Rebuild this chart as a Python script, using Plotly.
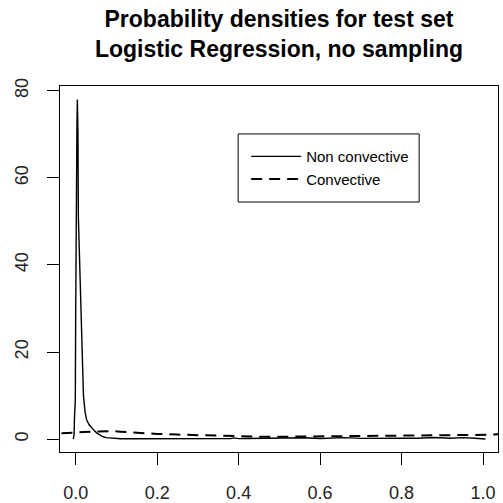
import plotly.graph_objects as go

# Non convective density (solid)
nonconv_x = [-0.006, -0.004, -0.003, -0.001, 0.000, 0.001, 0.003, 0.004, 0.0055, 0.0065,
             0.009, 0.011, 0.013, 0.015, 0.017, 0.019, 0.023, 0.027, 0.033, 0.040,
             0.046, 0.052, 0.060, 0.067, 0.075, 0.090, 0.110, 0.140, 0.200, 0.260,
             0.320, 0.380, 0.390, 0.400, 0.420, 0.460, 0.480, 0.500, 0.540, 0.560,
             0.600, 0.640, 0.660, 0.700, 0.740, 0.780, 0.800, 0.840, 0.880, 0.920,
             0.950, 0.980, 1.000, 1.006]
nonconv_y = [0.0, 1.0, 5.0, 9.0, 30.0, 56.0, 72.0, 78.0, 70.0, 51.0,
             42.0, 36.0, 27.0, 20.0, 14.0, 10.0, 6.2, 4.4, 3.3, 2.5,
             1.9, 1.4, 0.9, 0.55, 0.35, 0.18, 0.10, 0.08, 0.08, 0.09,
             0.10, 0.12, 0.30, 0.12, 0.14, 0.16, 0.30, 0.15, 0.18, 0.32,
             0.16, 0.20, 0.35, 0.18, 0.22, 0.35, 0.20, 0.22, 0.38, 0.22,
             0.35, 0.20, 0.15, 0.05]

# Convective density (dashed)
conv_x = [-0.035, -0.010, 0.000, 0.020, 0.050, 0.070, 0.090, 0.110, 0.140, 0.170,
          0.200, 0.250, 0.300, 0.350, 0.400, 0.450, 0.500, 0.550, 0.600, 0.650,
          0.700, 0.750, 0.800, 0.850, 0.900, 0.950, 1.000, 1.020, 1.037]
conv_y = [1.35, 1.40, 1.50, 1.65, 1.80, 1.90, 1.85, 1.70, 1.50, 1.35,
          1.20, 1.05, 0.90, 0.75, 0.60, 0.55, 0.55, 0.58, 0.60, 0.62,
          0.65, 0.70, 0.75, 0.80, 0.82, 0.85, 0.90, 1.00, 1.15]

x_ticks = [0.0, 0.2, 0.4, 0.6, 0.8, 1.0]
x_tick_labels = ["0.0", "0.2", "0.4", "0.6", "0.8", "1.0"]
y_ticks = [0, 20, 40, 60, 80]
y_tick_labels = ["0", "20", "40", "60", "80"]

font_family = "Liberation Sans, Arial, sans-serif"

fig = go.Figure()
fig.add_trace(go.Scatter(x=nonconv_x, y=nonconv_y, mode="lines", name="Non convective",
                         line=dict(color="black", width=1.4)))
fig.add_trace(go.Scatter(x=conv_x, y=conv_y, mode="lines", name="Convective",
                         line=dict(color="black", width=2, dash="11px,7px")))

# legend frame (layout decoration)
fig.add_shape(type="rect", xref="paper", yref="paper",
              x0=0.4067, x1=0.820, y0=0.683, y1=0.869,
              line=dict(color="black", width=1), fillcolor="white", layer="below")

fig.update_layout(
    width=503, height=503,
    margin=dict(l=60, r=5, t=86, b=51, autoexpand=False),
    paper_bgcolor="white", plot_bgcolor="white",
    font=dict(family=font_family, color="black"),
    title=dict(text="<b>Probability densities for test set<br>Logistic Regression, no sampling</b>",
               x=0.5, xref="paper", xanchor="center",
               y=0.947, yref="container", yanchor="top", automargin=False,
               font=dict(size=23, family=font_family, color="black")),
    showlegend=True,
    legend=dict(x=0.425, y=0.852, xanchor="left", yanchor="top",
                borderwidth=0, bgcolor="rgba(0,0,0,0)",
                font=dict(size=15, family=font_family, color="black"),
                itemwidth=50, tracegroupgap=0),
    xaxis=dict(range=[-0.0386, 1.0368], tickmode="array", tickvals=x_ticks, ticktext=x_tick_labels,
               showgrid=False, zeroline=False, showline=True, linecolor="black", linewidth=1,
               mirror=True, ticks="outside", ticklen=12, tickcolor="black", tickwidth=1,
               automargin=False, ticklabelstandoff=12,
               tickfont=dict(size=18, family=font_family, color="#222")),
    yaxis=dict(range=[-2.95, 81.1], tickmode="array", tickvals=y_ticks, ticktext=y_tick_labels,
               showgrid=False, zeroline=False, showline=True, linecolor="black", linewidth=1,
               mirror=True, ticks="outside", ticklen=12, tickcolor="black", tickwidth=1,
               tickangle=-90, automargin=False, ticklabelstandoff=12,
               tickfont=dict(size=18, family=font_family, color="#222")),
)

fig.write_html("out.html", config={"displayModeBar": False},
               post_script="document.body.style.margin='0';document.body.style.overflow='hidden';")
